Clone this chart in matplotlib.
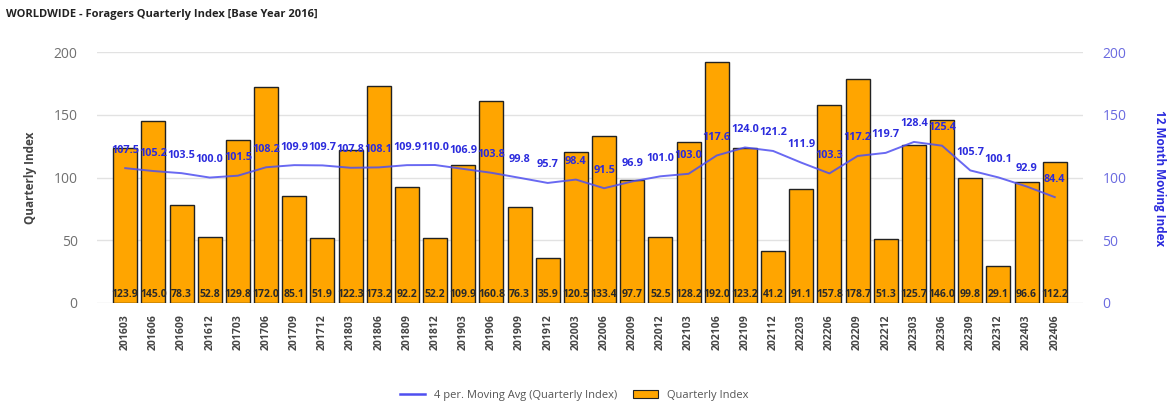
import numpy as np
import matplotlib
matplotlib.use('Agg')
import matplotlib.pyplot as plt
from matplotlib.patches import Patch
from matplotlib.lines import Line2D

periods = ['201603', '201606', '201609', '201612',
           '201703', '201706', '201709', '201712',
           '201803', '201806', '201809', '201812',
           '201903', '201906', '201909', '201912',
           '202003', '202006', '202009', '202012',
           '202103', '202106', '202109', '202112',
           '202203', '202206', '202209', '202212',
           '202303', '202306', '202309', '202312',
           '202403', '202406']

quarterly = [123.9, 145.0, 78.3, 52.8,
             129.8, 172.0, 85.1, 51.9,
             122.3, 173.2, 92.2, 52.2,
             109.9, 160.8, 76.3, 35.9,
             120.5, 133.4, 97.7, 52.5,
             128.2, 192.0, 123.2, 41.2,
             91.1, 157.8, 178.7, 51.3,
             125.7, 146.0, 99.8, 29.1,
             96.6, 112.2]

moving_avg = [107.5, 105.2, 103.5, 100.0,
              101.5, 108.2, 109.9, 109.7,
              107.8, 108.1, 109.9, 110.0,
              106.9, 103.8, 99.8, 95.7,
              98.4, 91.5, 96.9, 101.0,
              103.0, 117.6, 124.0, 121.2,
              111.9, 103.3, 117.2, 119.7,
              128.4, 125.4, 105.7, 100.1,
              92.9, 84.4]

yticks = [0, 50, 100, 150, 200]

plt.rcParams['font.family'] = ['Open Sans', 'DejaVu Sans']

BAR = '#FFA500'
LINE = '#4f4ff0'
LABEL_BLUE = '#2b2bdd'
TICK_GRAY = '#707070'


def main():
    fig = plt.figure(figsize=(11.72, 4.04), dpi=100)
    ax = fig.add_axes([0.0828, 0.25, 0.8412, 0.621])
    ax2 = ax.twinx()

    x = np.arange(len(periods))

    ax.bar(x, quarterly, width=0.85, color=BAR, edgecolor='#222222',
           linewidth=1.0, zorder=2)
    for xi, v in zip(x, quarterly):
        ax.text(xi, 2, '%.1f' % v, ha='center', va='bottom', fontsize=7.5,
                fontweight='bold', color='#2a2a2a', zorder=4)

    ax.plot(x, moving_avg, color=LINE, linewidth=1.4, alpha=0.85, zorder=3)
    for xi, v in zip(x, moving_avg):
        ax.annotate('%.1f' % v, (xi, v), xytext=(0, 9), textcoords='offset points',
                    ha='center', va='bottom', fontsize=7.8, fontweight='bold',
                    color=LABEL_BLUE, zorder=5)

    for a in (ax, ax2):
        a.set_ylim(0, 200)
        a.set_yticks(yticks)
        for s in a.spines.values():
            s.set_visible(False)

    ax.set_xlim(-1, len(periods))
    ax.set_xticks(x)
    ax.set_xticklabels(periods, rotation=90, fontsize=7.5, fontweight='bold',
                       color='#444444')
    ax.tick_params(axis='x', length=0, pad=8)
    ax.tick_params(axis='y', length=0, pad=14, labelsize=10, labelcolor=TICK_GRAY)
    ax.yaxis.grid(True, color='#e2e2e2', linewidth=1.0, zorder=0)
    ax.set_axisbelow(True)

    ax2.tick_params(axis='y', length=0, pad=14, labelsize=10, labelcolor='#6a6ae0')

    # axis titles placed on the figure so they sit where the reference has them
    fig.text(0.026, 0.56, 'Quarterly Index', fontsize=8.5, fontweight='bold',
             color='#444444', rotation=90, ha='center', va='center')
    fig.text(0.989, 0.56, '12 Month Moving Index', fontsize=8.5, fontweight='bold',
             color=LABEL_BLUE, rotation=-90, ha='center', va='center')

    fig.text(0.005, 0.965, 'WORLDWIDE - Foragers Quarterly Index [Base Year 2016]',
             fontsize=8, fontweight='bold', color='#222222', ha='left', va='center')

    handles = [Line2D([0], [0], color=LINE, linewidth=1.8),
               Patch(facecolor=BAR, edgecolor='#222222', linewidth=0.8)]
    fig.legend(handles, ['4 per. Moving Avg (Quarterly Index)', 'Quarterly Index'],
               loc='center', bbox_to_anchor=(0.49, 0.022), ncol=2, frameon=False,
               fontsize=8, labelcolor='#555555', handlelength=2.2, columnspacing=1.5)

    fig.savefig('out.png', dpi=100)


if __name__ == '__main__':
    main()
